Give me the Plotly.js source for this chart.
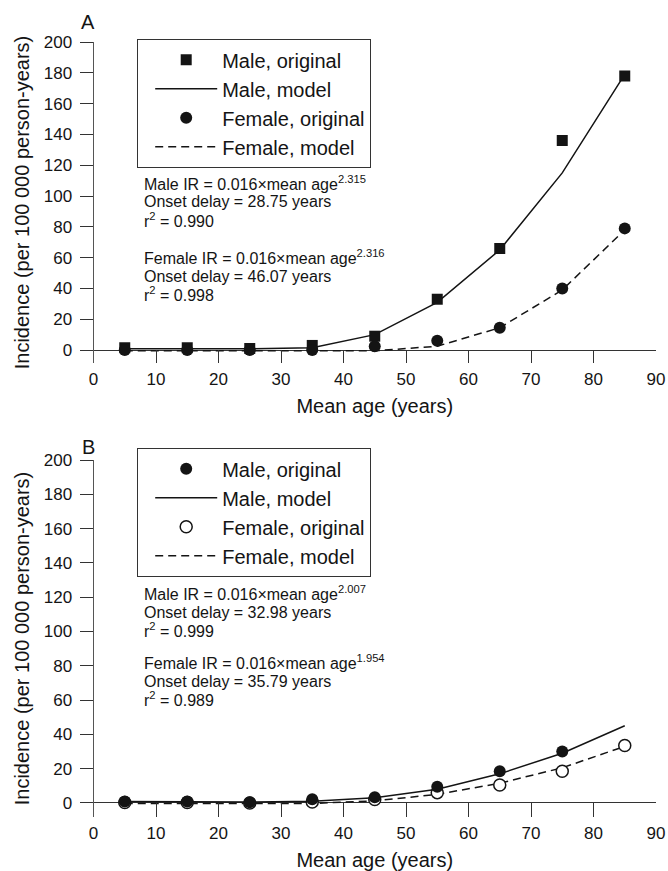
<!DOCTYPE html>
<html>
<head>
<meta charset="utf-8">
<script src="https://cdn.plot.ly/plotly-3.0.1.min.js"></script>
<style>html,body{margin:0;padding:0;background:#fff;}#chart{width:668px;height:871px;}</style>
</head>
<body>
<div id="chart"></div>
<script>
// ---- data ----
var ages = [5, 15, 25, 35, 45, 55, 65, 75, 85];
var xTicks = [0, 10, 20, 30, 40, 50, 60, 70, 80, 90];
var yTicks = [0, 20, 40, 60, 80, 100, 120, 140, 160, 180, 200];

// Panel A
var maleOrigA   = [1.5, 1.5, 1, 3, 9, 33, 66, 136, 178];
var maleModelA  = [0.8, 0.8, 0.8, 1.5, 10, 31, 65, 115, 179];
var femaleOrigA = [0, 0, 0, 0, 2.5, 6, 14.5, 40, 79];
var femaleModelA= [-0.5, -0.5, -0.5, -0.5, -0.5, 2.5, 14.5, 39, 78];

// Panel B
var agesMaleOrigB = [5, 15, 25, 35, 45, 55, 65, 75];
var maleOrigB   = [0.8, 0.8, 0.4, 2.2, 3.3, 9.5, 18.5, 30];
var maleModelB  = [0.8, 0.8, 0.5, 1, 3, 8, 17, 29, 45];
var femaleOrigB = [0.3, 0.3, 0, 0.5, 2, 6, 10.5, 18.5, 33.5];
var femaleModelB= [-0.3, -0.3, -0.3, -0.3, 1.2, 5, 11.5, 20.5, 33];

var seriesNames = ['Male, original', 'Male, model', 'Female, original', 'Female, model'];
var panelLabels = ['A', 'B'];
var xTitle = 'Mean age (years)';
var yTitle = 'Incidence (per 100 000 person-years)';
var notesA = ['Male IR = 0.016\u00D7mean age<sup>2.315</sup>', 'Onset delay = 28.75 years', 'r<sup>2</sup> = 0.990',
              'Female IR = 0.016\u00D7mean age<sup>2.316</sup>', 'Onset delay = 46.07 years', 'r<sup>2</sup> = 0.998'];
var notesB = ['Male IR = 0.016\u00D7mean age<sup>2.007</sup>', 'Onset delay = 32.98 years', 'r<sup>2</sup> = 0.999',
              'Female IR = 0.016\u00D7mean age<sup>1.954</sup>', 'Onset delay = 35.79 years', 'r<sup>2</sup> = 0.989'];

// ---- styling ----
var W = 668, H = 871;
var INK = '#141414';
var FONT = 'Liberation Sans, Arial, Helvetica, sans-serif';
function px(x) { return x / W; }
function py(y) { return 1 - y / H; }

var solid = {color: INK, width: 1.5};
var dashed = {color: INK, width: 1.5, dash: '8px,5px'};

var traces = [
  // Panel A
  {x: ages, y: maleModelA, mode: 'lines', line: solid, name: seriesNames[1], legend: 'legend', legendrank: 2, xaxis: 'x', yaxis: 'y'},
  {x: ages, y: femaleModelA, mode: 'lines', line: dashed, name: seriesNames[3], legend: 'legend', legendrank: 4, xaxis: 'x', yaxis: 'y'},
  {x: ages, y: maleOrigA, mode: 'markers', marker: {symbol: 'square', size: 11, color: INK}, name: seriesNames[0], legend: 'legend', legendrank: 1, xaxis: 'x', yaxis: 'y'},
  {x: ages, y: femaleOrigA, mode: 'markers', marker: {symbol: 'circle', size: 12, color: INK}, name: seriesNames[2], legend: 'legend', legendrank: 3, xaxis: 'x', yaxis: 'y'},
  // Panel B
  {x: ages, y: femaleModelB, mode: 'lines', line: dashed, name: seriesNames[3], legend: 'legend2', legendrank: 4, xaxis: 'x2', yaxis: 'y2'},
  {x: ages, y: femaleOrigB, mode: 'markers', marker: {symbol: 'circle', size: 12, color: '#fff', line: {color: INK, width: 1.5}}, name: seriesNames[2], legend: 'legend2', legendrank: 3, xaxis: 'x2', yaxis: 'y2'},
  {x: ages, y: maleModelB, mode: 'lines', line: solid, name: seriesNames[1], legend: 'legend2', legendrank: 2, xaxis: 'x2', yaxis: 'y2'},
  {x: agesMaleOrigB, y: maleOrigB, mode: 'markers', marker: {symbol: 'circle', size: 12, color: INK}, name: seriesNames[0], legend: 'legend2', legendrank: 1, xaxis: 'x2', yaxis: 'y2'}
];

function xAxis(anchor, ticklen) {
  return {
    anchor: anchor, domain: [px(93.5), px(656)], range: [0, 90],
    tickmode: 'array', tickvals: xTicks, ticktext: xTicks.map(String),
    ticks: 'inside', ticklen: ticklen, tickwidth: 1, tickcolor: '#333',
    showline: false, showgrid: false, zeroline: false,
    tickfont: {size: 17, color: INK, family: FONT}, ticklabelstandoff: 4,
    title: {text: xTitle, font: {size: 20, color: INK, family: FONT}, standoff: 10}
  };
}
function yAxis(anchor, domain, lo) {
  return {
    anchor: anchor, domain: domain, range: [lo, 200],
    tickmode: 'array', tickvals: yTicks, ticktext: yTicks.map(String),
    ticks: 'outside', ticklen: 13, tickwidth: 1, tickcolor: '#333',
    showline: true, linecolor: '#555', linewidth: 1,
    showgrid: false, zeroline: true, zerolinecolor: '#333', zerolinewidth: 1,
    tickfont: {size: 17, color: INK, family: FONT}, ticklabelstandoff: 4,
    title: {text: yTitle, font: {size: 20, color: INK, family: FONT}, standoff: 8}
  };
}

var annotations = [];
panelLabels.forEach(function (lab, i) {
  annotations.push({xref: 'paper', yref: 'paper', x: px(88), y: py(i === 0 ? 22 : 447), text: lab,
    showarrow: false, xanchor: 'center', yanchor: 'middle', font: {size: 20, color: INK, family: FONT}});
});
var rowsA = [183, 202, 220, 257, 276, 294];
var rowsB = [593, 612, 630, 662, 681, 699];
notesA.forEach(function (t, i) {
  annotations.push({xref: 'paper', yref: 'paper', x: px(142), y: py(rowsA[i]), text: t, showarrow: false,
    xanchor: 'left', yanchor: 'middle', font: {size: 16, color: INK, family: FONT}});
});
notesB.forEach(function (t, i) {
  annotations.push({xref: 'paper', yref: 'paper', x: px(142), y: py(rowsB[i]), text: t, showarrow: false,
    xanchor: 'left', yanchor: 'middle', font: {size: 16, color: INK, family: FONT}});
});

function legendBox(top) {
  return {x: px(137), y: py(top), xanchor: 'left', yanchor: 'top', bgcolor: '#fff',
    bordercolor: '#333', borderwidth: 1.2, font: {size: 20, color: INK, family: FONT},
    itemwidth: 62, indentation: 12, traceorder: 'normal', tracegroupgap: 0};
}

var layout = {
  width: W, height: H, margin: {l: 0, r: 0, t: 0, b: 0},
  paper_bgcolor: '#fff', plot_bgcolor: '#fff',
  font: {family: FONT, color: INK},
  showlegend: true,
  xaxis: xAxis('y', 13),
  yaxis: yAxis('x', [py(363), py(42)], -8.4),
  xaxis2: xAxis('y2', 14),
  yaxis2: yAxis('x2', [py(817), py(460)], -8.2),
  legend: legendBox(39),
  legend2: legendBox(448),
  annotations: annotations
};

Plotly.newPlot('chart', traces, layout, {staticPlot: true, displayModeBar: false});
</script>
</body>
</html>
